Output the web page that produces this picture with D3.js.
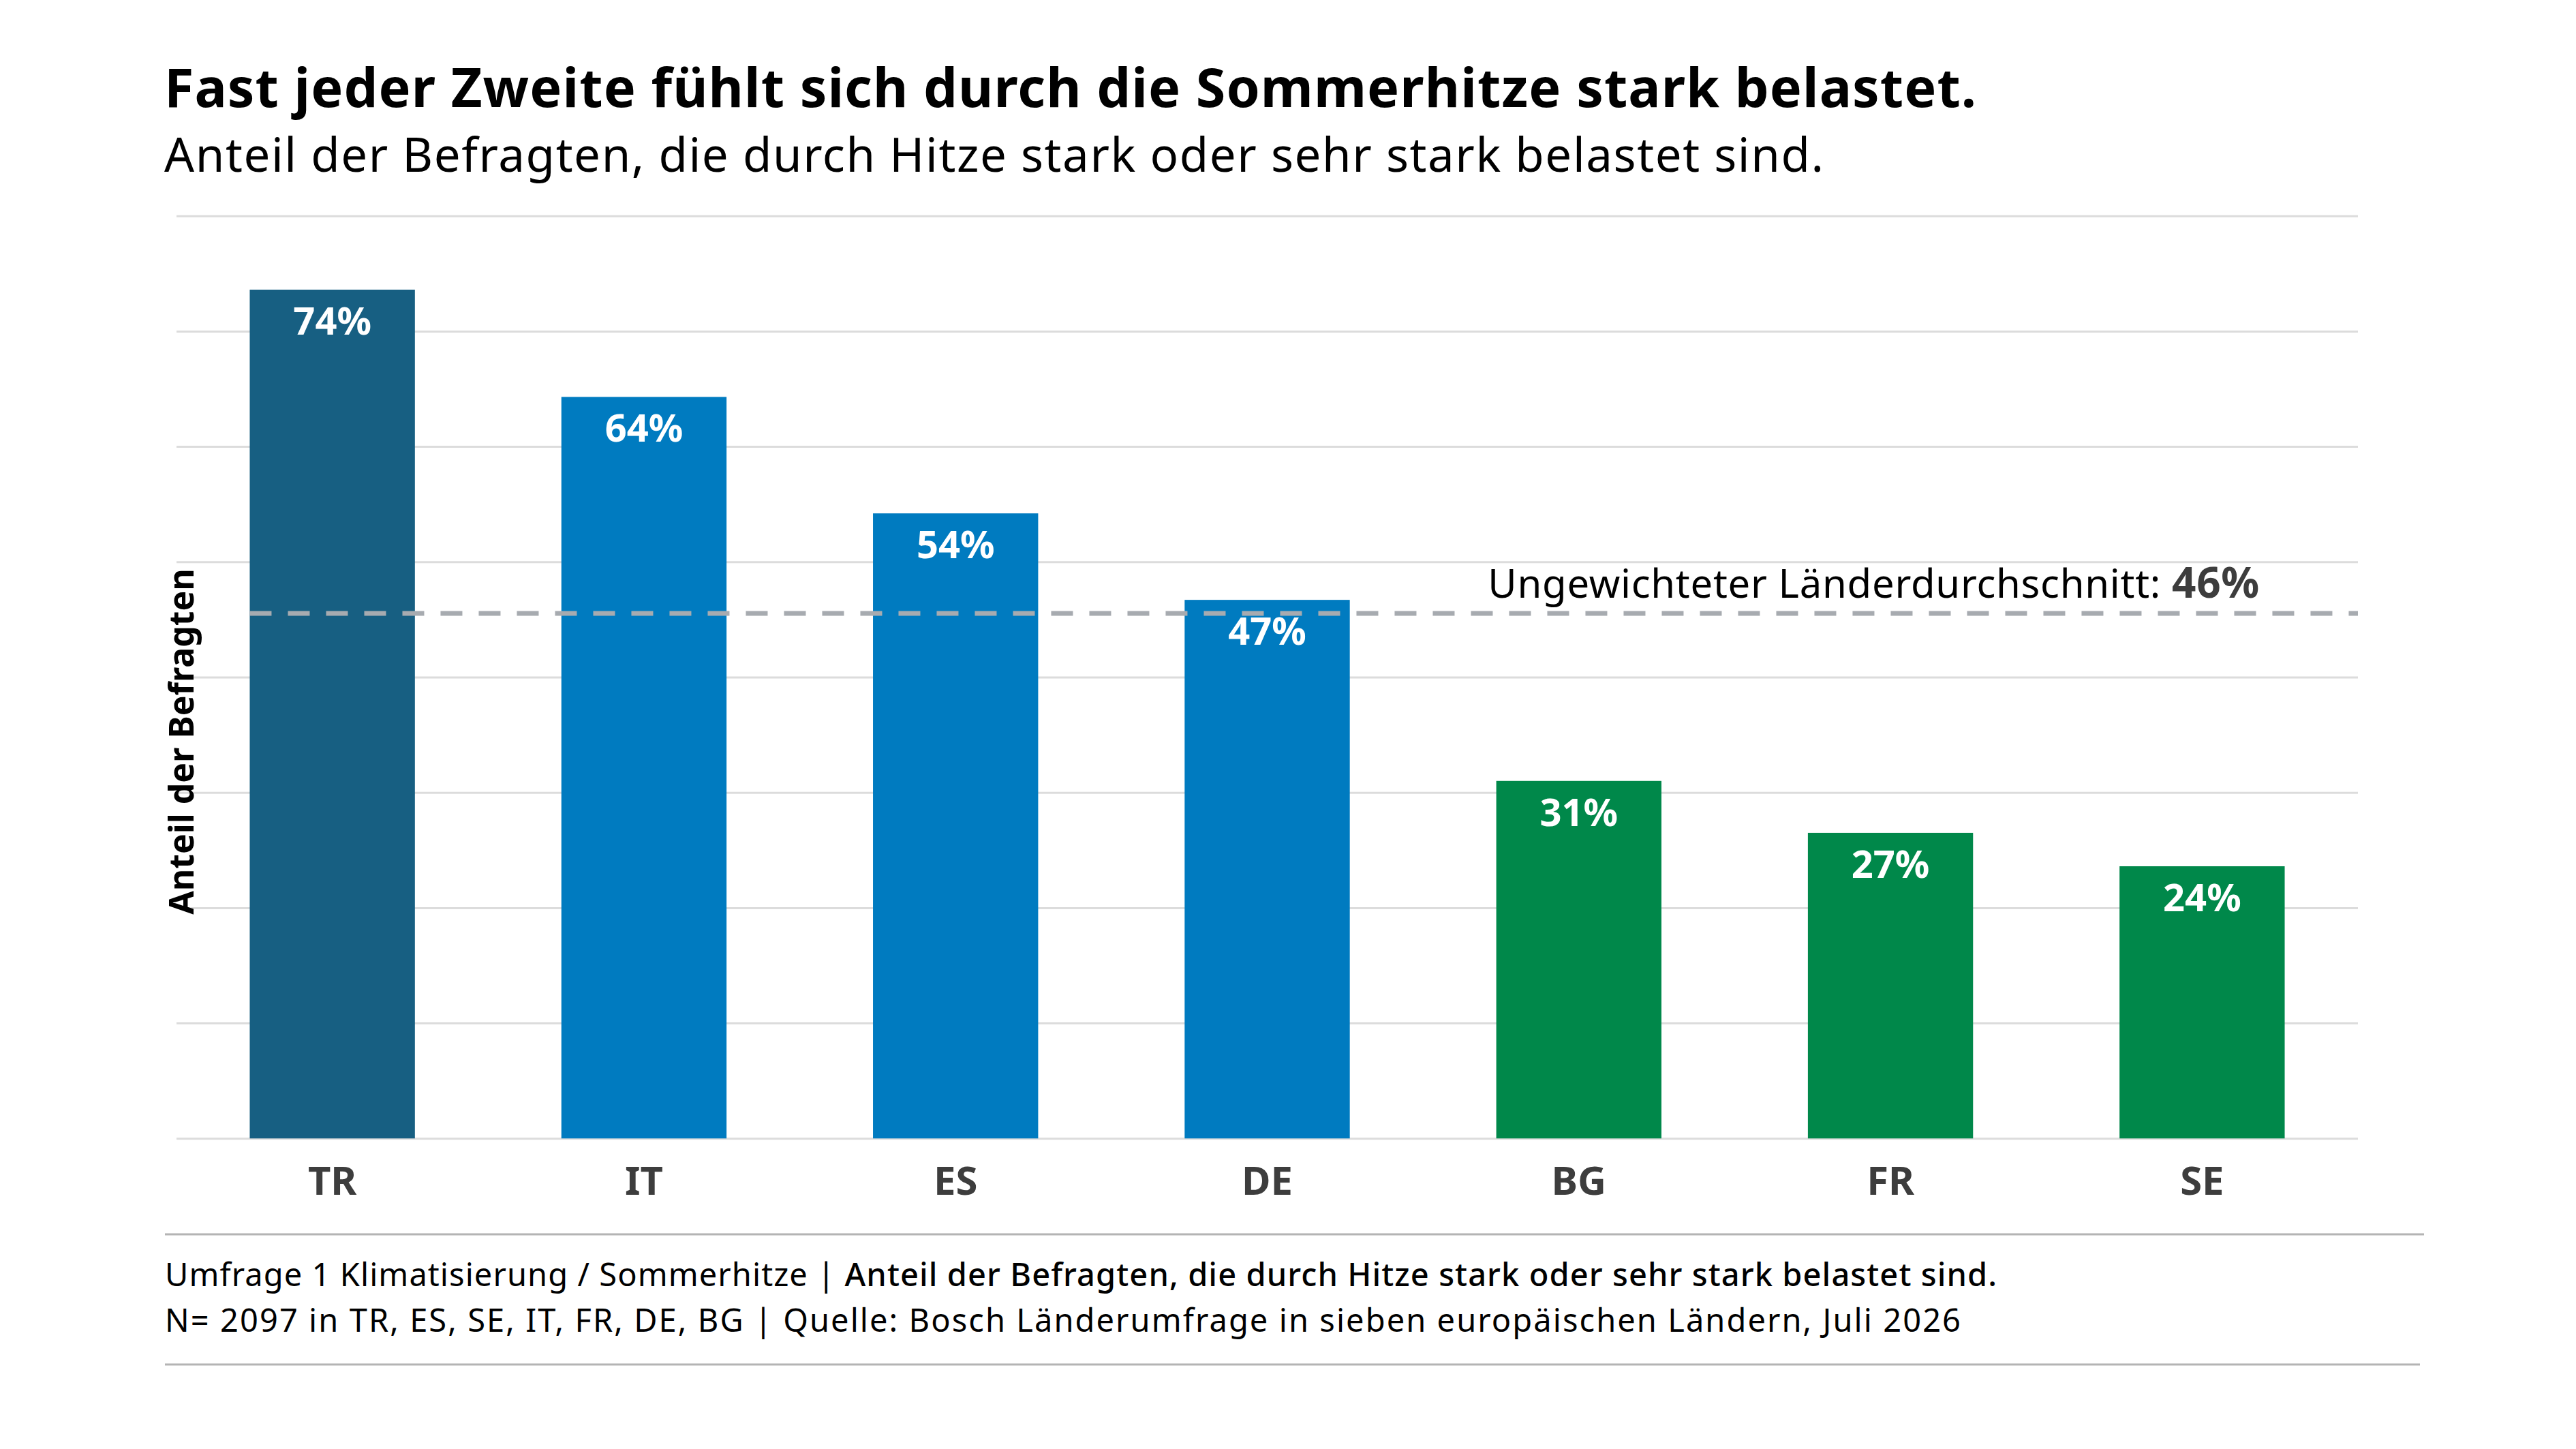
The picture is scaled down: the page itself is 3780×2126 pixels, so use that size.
<!DOCTYPE html>
<html>
<head>
<meta charset="utf-8">
<script src="https://cdn.jsdelivr.net/npm/d3@7"></script>
<style>
  body { margin: 0; background: #fff; }
  text { font-family: "Noto Sans", "Liberation Sans", sans-serif; }
</style>
</head>
<body>
<svg id="chart" width="3780" height="2126"></svg>
<script>
var countries = ["TR", "IT", "ES", "DE", "BG", "FR", "SE"]
var shares = [73.6, 64.3, 54.2, 46.7, 31.0, 26.5, 23.6]
var barColors = ["#175f82", "#007bc0", "#007bc0", "#007bc0", "#00884a", "#00884a", "#00884a"]
var yTicks = [0, 10, 20, 30, 40, 50, 60, 70, 80]

var svg = d3.select("#chart")
svg.append("rect").attr("width", 3780).attr("height", 2126).attr("fill", "#fff")

var plot = {left: 259, right: 3460, top: 316.7, bottom: 1670.3}

var x = d3.scaleBand()
          .domain(countries)
          .range([plot.left, plot.right])
          .paddingInner(0.47)
          .paddingOuter(0.235)

var y = d3.scaleLinear()
          .domain([0, 80])
          .range([plot.bottom, plot.top])

// stretch a text line to the width it has in the picture
function fitWidth(sel, target) {
  var node = sel.node()
  var w = node.getComputedTextLength()
  var n = node.textContent.length
  if (n > 1) sel.attr("letter-spacing", (target - w) / (n - 1))
}

// title + subtitle
var title = svg.append("text")
   .attr("x", 241).attr("y", 157)
   .attr("font-size", 79)
   .attr("font-weight", "bold")
   .attr("fill", "#000")
   .text("Fast jeder Zweite fühlt sich durch die Sommerhitze stark belastet.")
fitWidth(title, 2659)

var subtitle = svg.append("text")
   .attr("x", 241).attr("y", 252)
   .attr("font-size", 69)
   .attr("fill", "#000")
   .text("Anteil der Befragten, die durch Hitze stark oder sehr stark belastet sind.")
fitWidth(subtitle, 2435)

// gridlines
var yAxis = d3.axisLeft(y).tickValues(yTicks).tickSize(-(plot.right - plot.left)).tickFormat("")
var gridG = svg.append("g")
               .attr("transform", "translate(" + plot.left + ",0)")
               .call(yAxis)
gridG.select(".domain").remove()
gridG.selectAll(".tick line").attr("stroke", "#dcdcdc").attr("stroke-width", 3)

// bars
svg.append("g").selectAll("rect").data(shares).enter()
   .append("rect")
   .attr("x", function(d, i) { return x(countries[i]) })
   .attr("y", function(d) { return y(d) })
   .attr("width", x.bandwidth())
   .attr("height", function(d) { return y(0) - y(d) })
   .attr("fill", function(d, i) { return barColors[i] })

// unweighted average line
var avg = d3.mean(shares)
svg.append("line")
   .attr("x1", x(countries[0]))
   .attr("x2", plot.right)
   .attr("y1", y(avg) + 3).attr("y2", y(avg) + 3)
   .attr("stroke", "#a7abb0")
   .attr("stroke-width", 7)
   .attr("stroke-dasharray", "32,24")

var avgText = svg.append("text")
   .attr("x", 3316).attr("y", 877)
   .attr("text-anchor", "end")
   .attr("font-size", 58)
   .attr("fill", "#000")
avgText.append("tspan").text("Ungewichteter Länderdurchschnitt: ")
avgText.append("tspan").attr("font-weight", "bold").attr("font-size", 62).attr("fill", "#3d3d3d")
       .text(Math.round(avg) + "%")
fitWidth(avgText, 1132)

// value labels
svg.append("g").selectAll("text").data(shares).enter()
   .append("text")
   .attr("x", function(d, i) { return x(countries[i]) + x.bandwidth() / 2 })
   .attr("y", function(d) { return y(d) + 66 })
   .attr("text-anchor", "middle")
   .attr("font-size", 56)
   .attr("font-weight", "bold")
   .attr("fill", "#fff")
   .text(function(d) { return Math.round(d) + "%" })

// x axis labels
var xAxis = d3.axisBottom(x).tickSize(0).tickPadding(0)
var xG = svg.append("g")
            .attr("transform", "translate(0," + plot.bottom + ")")
            .call(xAxis)
xG.select(".domain").remove()
xG.selectAll(".tick text")
  .attr("dy", 0)
  .attr("y", 83)
  .attr("font-size", 58)
  .attr("font-weight", "bold")
  .attr("fill", "#3d3d3d")
  .attr("font-family", "Noto Sans, sans-serif")

// y axis title
svg.append("text")
   .attr("transform", "translate(284,1088) rotate(-90)")
   .attr("text-anchor", "middle")
   .attr("font-size", 50)
   .attr("font-weight", "bold")
   .attr("fill", "#000")
   .text("Anteil der Befragten")

// footer
svg.append("line").attr("x1", 242).attr("x2", 3557).attr("y1", 1811).attr("y2", 1811)
   .attr("stroke", "#b4b4b4").attr("stroke-width", 3)
svg.append("line").attr("x1", 242).attr("x2", 3551).attr("y1", 2002).attr("y2", 2002)
   .attr("stroke", "#b4b4b4").attr("stroke-width", 3)

var foot1 = svg.append("text")
   .attr("x", 242).attr("y", 1887)
   .attr("font-size", 47)
   .attr("fill", "#000")
foot1.append("tspan").text("Umfrage 1 Klimatisierung / Sommerhitze | ")
foot1.append("tspan").attr("font-weight", 500).text("Anteil der Befragten, die durch Hitze stark oder sehr stark belastet sind.")
fitWidth(foot1, 2688)

var foot2 = svg.append("text")
   .attr("x", 242).attr("y", 1954)
   .attr("font-size", 47)
   .attr("fill", "#000")
   .text("N= 2097 in TR, ES, SE, IT, FR, DE, BG | Quelle: Bosch Länderumfrage in sieben europäischen Ländern, Juli 2026")
fitWidth(foot2, 2635)
</script>
</body>
</html>
